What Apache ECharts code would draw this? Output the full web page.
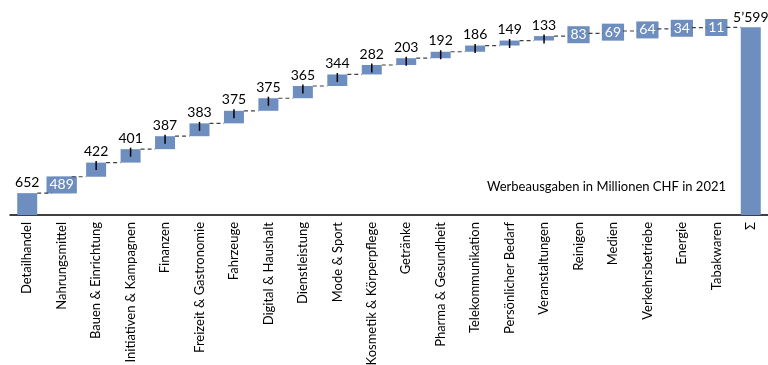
<!DOCTYPE html>
<html><head><meta charset="utf-8">
<script src="https://cdn.jsdelivr.net/npm/echarts@6/dist/echarts.min.js"></script>
<style>html,body{margin:0;padding:0;background:#fff}#c{width:768px;height:365px}</style>
</head><body><div id="c"></div>
<script>
const categories = ['Detailhandel','Nahrungsmittel','Bauen & Einrichtung','Initiativen & Kampagnen','Finanzen','Freizeit & Gastronomie','Fahrzeuge','Digital & Haushalt','Dienstleistung','Mode & Sport','Kosmetik & Körperpflege','Getränke','Pharma & Gesundheit','Telekommunikation','Persönlicher Bedarf','Veranstaltungen','Reinigen','Medien','Verkehrsbetriebe','Energie','Tabakwaren'];
const values = [652,489,422,401,387,383,375,375,365,344,282,203,192,186,149,133,83,69,64,34,11];
const totalCategory = 'Σ';
const totalValue = 5599;
const totalLabel = '5’599';
const insideLabels = ['Nahrungsmittel','Reinigen','Medien','Verkehrsbetriebe','Energie','Tabakwaren'];
const tickedBars = ['Bauen & Einrichtung','Initiativen & Kampagnen','Finanzen','Freizeit & Gastronomie','Fahrzeuge','Digital & Haushalt','Dienstleistung','Mode & Sport','Kosmetik & Körperpflege','Getränke','Pharma & Gesundheit','Telekommunikation','Persönlicher Bedarf','Veranstaltungen'];
const noteText = 'Werbeausgaben in Millionen CHF in 2021';

const BLUE = '#6e8ebf';
const FONT = 'Lato';
const allCats = categories.concat([totalCategory]);
const cum = [];
let run = 0;
values.forEach(v => { run += v; cum.push(run); });
const baseData = [0].concat(cum.slice(0, -1)).concat([0]);
const barData = values.map((v, i) => {
  const inside = insideLabels.includes(categories[i]);
  return {
    value: v,
    label: inside ? {
      show: true, position: 'inside', color: '#fff', backgroundColor: BLUE,
      padding: [2, 3, 1, 3], fontSize: 14, fontFamily: FONT
    } : {
      show: true, position: 'top', color: '#000', fontSize: 14, fontFamily: FONT, distance: 4
    }
  };
});
barData.push({ value: totalValue, label: { show: true, position: 'top', color: '#000', fontSize: 14, fontFamily: FONT, distance: 3, formatter: totalLabel } });

const connData = cum.map((c, i) => [i, c, tickedBars.includes(categories[i]) ? 1 : 0]);

const chart = echarts.init(document.getElementById('c'), null, { renderer: 'canvas' });
chart.setOption({
  animation: false,
  grid: { left: 10, right: 0, top: 20.6, bottom: 150, containLabel: false, outerBoundsMode: 'none' },
  xAxis: {
    type: 'category', data: allCats,
    axisLine: { lineStyle: { color: '#000', width: 1.5 } },
    axisTick: { show: false },
    axisLabel: { rotate: 90, color: '#000', fontSize: 13, fontFamily: FONT, interval: 0, margin: 7 }
  },
  yAxis: { type: 'value', min: 0, max: 5800, show: false, splitLine: { show: false } },
  graphic: [{ type: 'text', right: 42, top: 180, style: { text: noteText, font: '13px ' + FONT, fill: '#000' } }],
  series: [
    { type: 'bar', stack: 'w', data: baseData, barWidth: 20, itemStyle: { color: 'transparent' }, silent: true },
    { type: 'bar', stack: 'w', data: barData, barWidth: 20, itemStyle: { color: BLUE } },
    {
      type: 'custom', data: connData, z: 5,
      renderItem: function (params, api) {
        const i = api.value(0), c = api.value(1), t = api.value(2);
        const p1 = api.coord([i, c]);
        const p2 = api.coord([i + 1, c]);
        const half = 10;
        const children = [{
          type: 'line',
          shape: { x1: p1[0] + half, y1: p1[1], x2: p2[0] - half, y2: p2[1] },
          style: { stroke: '#404040', lineWidth: 1.2, lineDash: [4, 3] }
        }];
        if (t) {
          children.push({
            type: 'line',
            shape: { x1: p1[0], y1: p1[1] - 1.5, x2: p1[0], y2: p1[1] + 7.5 },
            style: { stroke: '#000', lineWidth: 1.5 }
          });
        }
        return { type: 'group', children: children };
      }
    }
  ]
});
</script></body></html>
